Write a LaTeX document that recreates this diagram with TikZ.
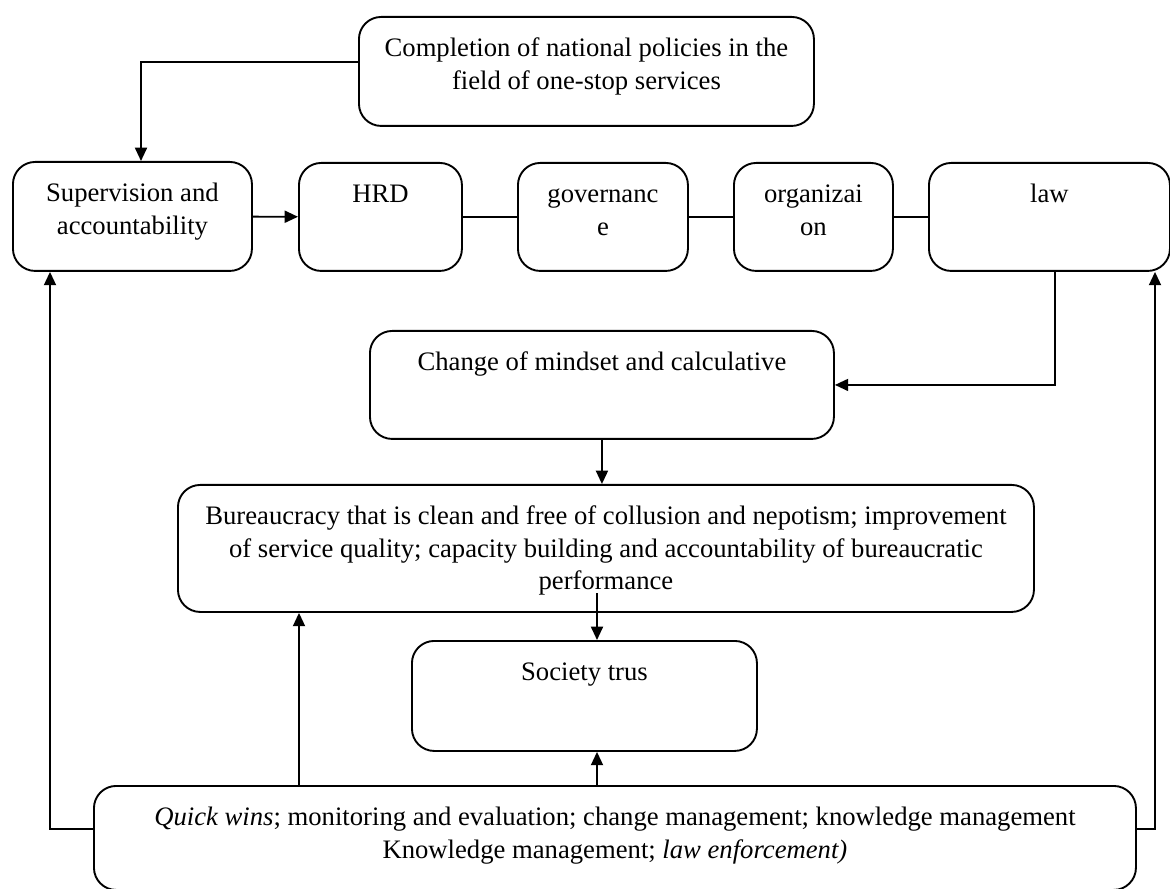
\documentclass[tikz,border=0pt]{standalone}
\usepackage{fontspec}
\setmainfont{Liberation Serif}
\usetikzlibrary{arrows.meta}

\begin{document}
\begin{tikzpicture}[x=0.45pt,y=-0.45pt,line width=0.85pt,>=Triangle]
\def\u{0.45pt}   % one pixel of the page
\tikzset{
  panel/.style 2 args={draw,rounded corners=10pt,anchor=north west,align=flush center,
    inner xsep=0pt,inner ysep=0pt,text height=18pt,
    text width={#1*\u},text depth={#2*\u-18pt},
    font=\fontsize{12}{14.6}\selectfont},
  arr/.style={-{Triangle[length=6pt,width=5.4pt]}}
}
\useasboundingbox (0,0) rectangle (1170,889);

% boxes
\node[panel={455}{109}] (pol) at (358,16) {Completion of national policies in the\\field of one-stop services};
\node[panel={239}{109}] (sup) at (12,161) {Supervision and\\accountability};
\node[panel={163}{108}] (hrd) at (298,162) {HRD};
\node[panel={170}{108}] (gov) at (517,162) {governanc\\e};
\node[panel={159}{108}] (org) at (733,162) {organizai\\on};
\node[panel={241}{108}] (law) at (928,162) {law};
\node[panel={464}{108}] (chg) at (369,330) {Change of mindset and calculative};
\node[panel={856}{127}] (bur) at (177,484) {Bureaucracy that is clean and free of collusion and nepotism; improvement\\of service quality; capacity building and accountability of bureaucratic\\performance};
\node[panel={345}{110}] (soc) at (411,640) {Society trus};
\node[panel={1042}{104}] (qw) at (93,785) {\textit{Quick wins}; monitoring and evaluation; change management; knowledge management\\Knowledge management; \textit{law enforcement)}};

% turning points
\coordinate (tl) at (141,62);
\coordinate (bl) at (50,829);
\coordinate (br) at (1155,829);
\coordinate (lw) at (1055,385);
\coordinate (perf) at (597,593);
\coordinate (qwl) at (299,785);

% connectors
\draw[arr] (pol.west |- tl) -- (tl) -- (tl |- sup.north);
\draw[arr] (sup) -- (hrd);
\foreach \a/\b in {hrd/gov,gov/org,org/law}
  \draw (\a) -- (\b);
\draw[arr] (lw |- law.south) -- (lw) -- (chg.east);
\draw[arr] (chg.south) -- (chg.south |- bur.north);
\draw[arr] (perf) -- (perf |- soc.north);
\draw[arr] (perf |- qw.north) -- (perf |- soc.south);
\draw[arr] (qwl) -- (qwl |- bur.south);
\draw[arr] (qw.west |- bl) -- (bl) -- (bl |- sup.south);
\draw[arr] (qw.east |- br) -- (br) -- (br |- law.south);
\end{tikzpicture}
\end{document}
